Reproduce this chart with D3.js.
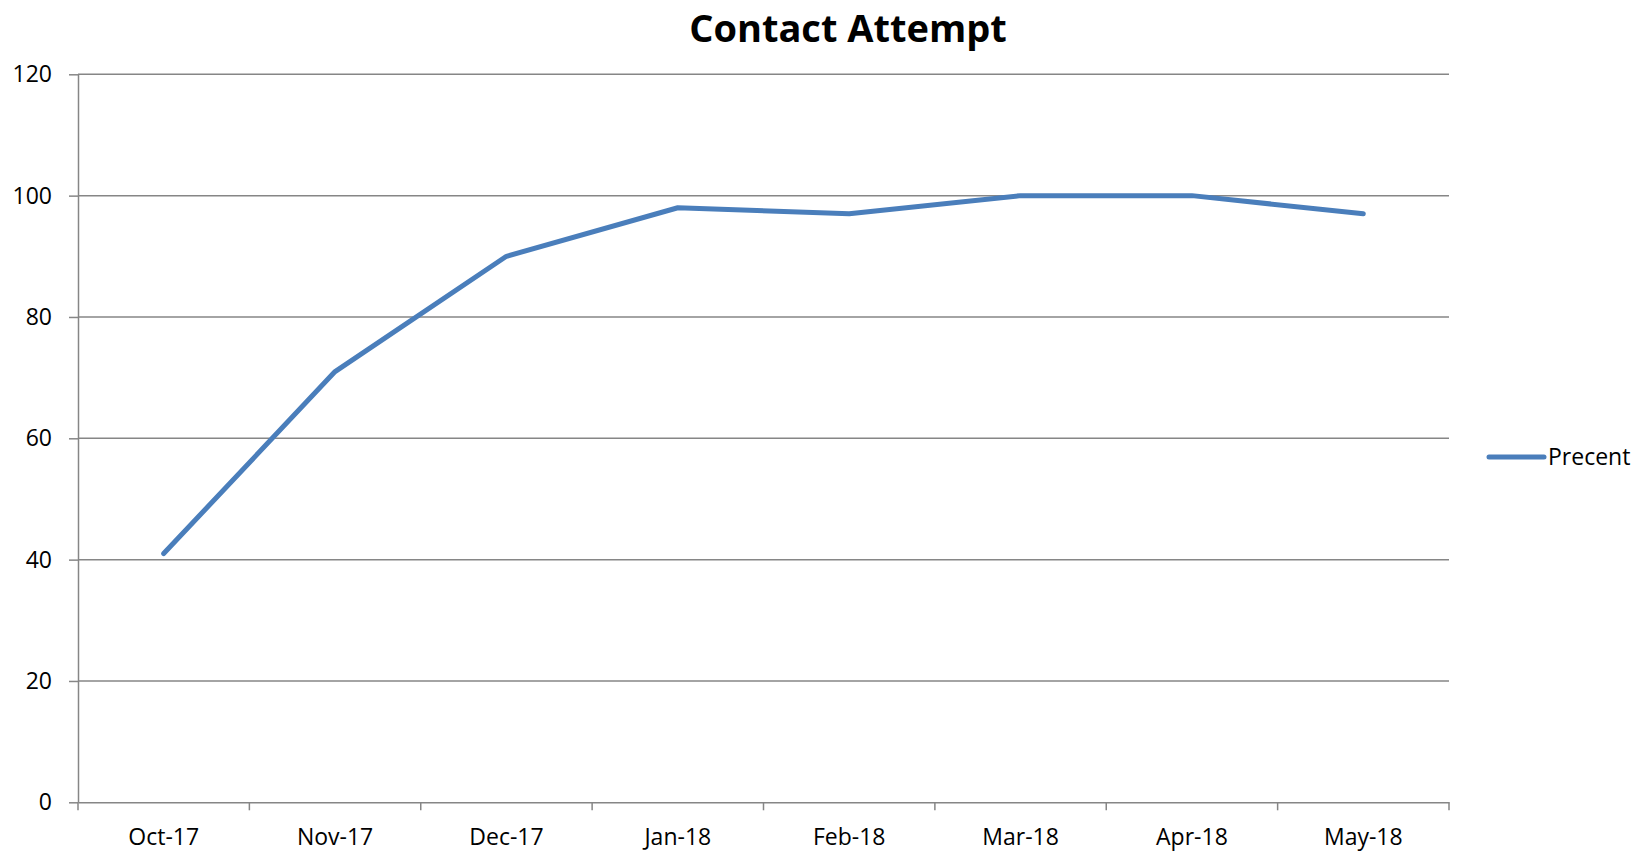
<!DOCTYPE html>
<html>
<head>
<meta charset="utf-8">
<script src="https://cdn.jsdelivr.net/npm/d3@7"></script>
<style>
  body { margin: 0; background: #fff; }
  text { font-family: "Open Sans", sans-serif; fill: #000; }
</style>
</head>
<body>
<div id="graph"></div>
<script>
// data
var mois = ["Oct-17", "Nov-17", "Dec-17", "Jan-18", "Feb-18", "Mar-18", "Apr-18", "May-18"];
var precent = [41, 71, 90, 98, 97, 100, 100, 97];
var ticksY = [0, 20, 40, 60, 80, 100, 120];
var titre = "Contact Attempt";
var nomSerie = "Precent";

var donnees = mois.map(function(m, i) { return { mois: m, valeur: precent[i] }; });

var largeurTotale = 1648,
    hauteurTotale = 852,
    marges = {haut: 74.3, droit: 199, bas: 49.7, gauche: 78},
    largeurInterne = largeurTotale - marges.gauche - marges.droit,
    hauteurInterne = hauteurTotale - marges.haut - marges.bas;

var couleurGrille = "#868686",
    couleurLigne = "#4a7ebb";

var echelleX = d3.scaleBand()
    .domain(mois)
    .range([0, largeurInterne])
    .padding(0);

var echelleY = d3.scaleLinear()
    .domain([0, 120])
    .range([hauteurInterne, 0]);

var svg = d3.select("#graph").append("svg")
    .attr("width", largeurTotale)
    .attr("height", hauteurTotale);

// titre
svg.append("text")
    .attr("x", 848)
    .attr("y", 42)
    .attr("text-anchor", "middle")
    .style("font-size", "38px")
    .style("font-weight", "bold")
    .text(titre);

var graphique = svg.append("g")
    .attr("transform", "translate(" + marges.gauche + "," + marges.haut + ")");

// grille horizontale
graphique.selectAll(".grille")
  .data(ticksY.slice(1))
  .enter()
  .append("line")
    .attr("class", "grille")
    .attr("x1", 0)
    .attr("x2", largeurInterne)
    .attr("y1", function(d) { return echelleY(d); })
    .attr("y2", function(d) { return echelleY(d); })
    .attr("stroke", couleurGrille)
    .attr("stroke-width", 1.5);

// axe Y
var axeY = d3.axisLeft(echelleY)
    .tickValues(ticksY)
    .tickSize(9)
    .tickPadding(17)
    .tickSizeOuter(0);

var gY = graphique.append("g").attr("class", "y axis").call(axeY);
gY.select(".domain").attr("stroke", couleurGrille).attr("stroke-width", 1.5);
gY.selectAll(".tick line").attr("stroke", couleurGrille).attr("stroke-width", 1.5);
gY.selectAll(".tick text")
    .style("font-size", "23px")
    .style("font-family", "'Open Sans', sans-serif")
    .attr("fill", "#000");

// axe X : traits entre les catégories
var axeX = d3.axisBottom(echelleX).tickSize(0).tickPadding(26);
var gX = graphique.append("g")
    .attr("class", "x axis")
    .attr("transform", "translate(0," + hauteurInterne + ")")
  .call(axeX);
gX.select(".domain").attr("stroke", couleurGrille).attr("stroke-width", 1.5);
gX.selectAll(".tick text")
    .style("font-size", "23px")
    .style("font-family", "'Open Sans', sans-serif")
    .attr("fill", "#000");

var bornes = mois.map(function(m) { return echelleX(m); }).concat([largeurInterne]);
gX.selectAll(".borne")
  .data(bornes)
  .enter()
  .append("line")
    .attr("class", "borne")
    .attr("x1", function(d) { return d; })
    .attr("x2", function(d) { return d; })
    .attr("y1", 0)
    .attr("y2", 8)
    .attr("stroke", couleurGrille)
    .attr("stroke-width", 1.5);

// courbe
var ligne = d3.line()
    .x(function(d) { return echelleX(d.mois) + echelleX.bandwidth() / 2; })
    .y(function(d) { return echelleY(d.valeur); });

graphique.append("path")
    .datum(donnees)
    .attr("d", ligne)
    .attr("fill", "none")
    .attr("stroke", couleurLigne)
    .attr("stroke-width", 5)
    .attr("stroke-linecap", "round")
    .attr("stroke-linejoin", "round");

// légende
var legende = svg.append("g").attr("transform", "translate(1489,457)");
legende.append("line")
    .attr("x1", 0).attr("x2", 55)
    .attr("y1", 0).attr("y2", 0)
    .attr("stroke", couleurLigne)
    .attr("stroke-width", 5)
    .attr("stroke-linecap", "round");
legende.append("text")
    .attr("x", 59)
    .attr("y", 8)
    .style("font-size", "23px")
    .text(nomSerie);
</script>
</body>
</html>
